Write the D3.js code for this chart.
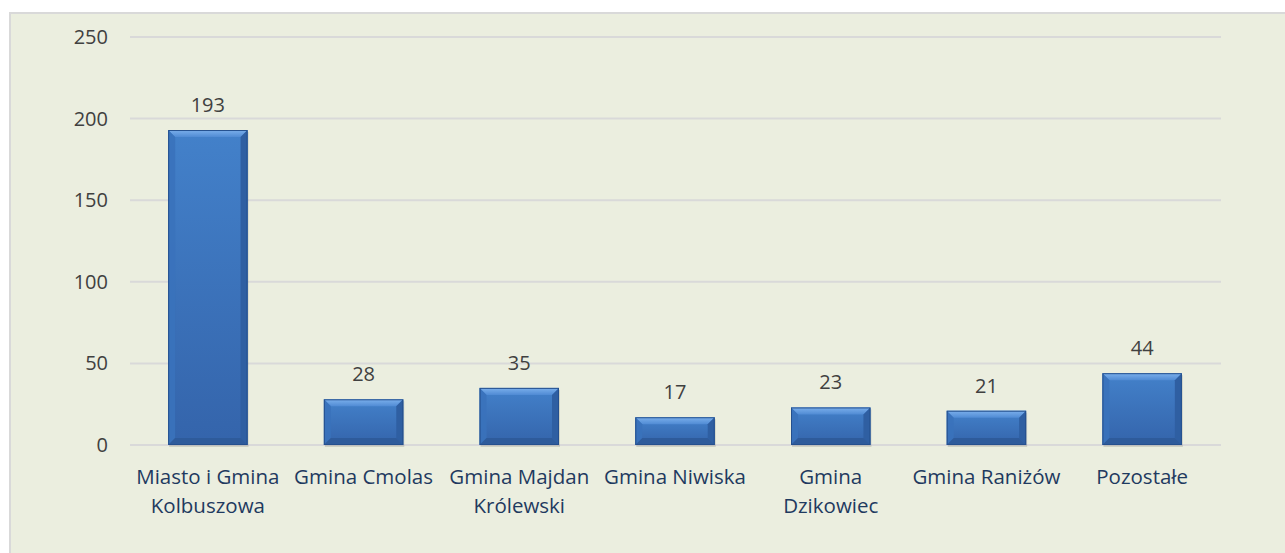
<!DOCTYPE html>
<html>
<head>
<meta charset="utf-8">
<script src="https://cdn.jsdelivr.net/npm/d3@7"></script>
<style>
body { margin: 0; background: #ffffff; }
#vis { width: 1285px; height: 553px; }
text { font-family: "Open Sans", "Liberation Sans", sans-serif; }
</style>
</head>
<body>
<div id="vis"></div>
<script>
var categories = ['Miasto i Gmina Kolbuszowa', 'Gmina Cmolas', 'Gmina Majdan Królewski',
    'Gmina Niwiska', 'Gmina Dzikowiec', 'Gmina Raniżów', 'Pozostałe'];
var labelLines = [['Miasto i Gmina', 'Kolbuszowa'], ['Gmina Cmolas'], ['Gmina Majdan', 'Królewski'],
    ['Gmina Niwiska'], ['Gmina', 'Dzikowiec'], ['Gmina Raniżów'], ['Pozostałe']];
var values = [193, 28, 35, 17, 23, 21, 44];
var yTicks = [0, 50, 100, 150, 200, 250];

var width = 1285, height = 553;

var svg = d3.select('#vis')
    .append('svg')
    .attr('width', width)
    .attr('height', height);

// chart frame
svg.append('rect')
    .attr('x', 10)
    .attr('y', 13)
    .attr('width', 1285)
    .attr('height', 560)
    .attr('fill', '#ebeedf')
    .attr('stroke', '#d9d9d9')
    .attr('stroke-width', 2);

var x_scale = d3.scaleBand()
    .domain(categories)
    .range([130, 1220])
    .paddingInner(0.49)
    .paddingOuter(0.245);

var y_scale = d3.scaleLinear()
    .domain([0, 250])
    .range([445, 37]);

var defs = svg.append('defs');
function grad(id, stops, vertical) {
    var g = defs.append('linearGradient').attr('id', id)
        .attr('x1', 0).attr('y1', 0)
        .attr('x2', vertical ? 0 : 1).attr('y2', vertical ? 1 : 0);
    stops.forEach(function(s) {
        g.append('stop').attr('offset', s[0]).attr('stop-color', s[1]);
    });
}
grad('face', [[0, '#4381ca'], [1, '#3464ab']], true);
grad('topBevel', [[0, '#7cb0ec'], [1, '#508bd4']], true);

// gridlines
svg.append('g')
    .selectAll('line')
    .data(yTicks)
    .enter()
    .append('line')
    .attr('x1', 130)
    .attr('x2', 1221)
    .attr('y1', function(d) { return y_scale(d); })
    .attr('y2', function(d) { return y_scale(d); })
    .attr('stroke', '#d9d9d9')
    .attr('stroke-width', 2);

// y axis labels
var y_axis = d3.axisLeft(y_scale)
    .tickValues(yTicks)
    .tickSize(0)
    .tickPadding(22);

svg.append('g')
    .attr('class', 'y axis')
    .attr('transform', 'translate(130,0)')
    .call(y_axis)
    .call(function(g) { g.select('.domain').remove(); })
    .selectAll('text')
    .attr('font-size', 20)
    .attr('fill', '#404040')
    .style('font-family', '"Open Sans", sans-serif');

// bars with bevel
var bw = x_scale.bandwidth();
var bev = 7;
var bars = svg.selectAll('.bar')
    .data(values)
    .enter()
    .append('g')
    .attr('class', 'bar')
    .attr('transform', function(d, i) {
        return 'translate(' + x_scale(categories[i]) + ',' + y_scale(d) + ')';
    });

bars.append('rect')
    .attr('x', 1)
    .attr('y', 2)
    .attr('width', bw)
    .attr('height', function(d) { return y_scale(0) - y_scale(d); })
    .attr('fill', '#000')
    .attr('opacity', 0.12);

bars.append('rect')
    .attr('width', bw)
    .attr('height', function(d) { return y_scale(0) - y_scale(d); })
    .attr('fill', 'url(#face)');

bars.append('path')
    .attr('d', function(d) {
        return 'M0,0 L' + bw + ',0 L' + (bw - bev) + ',' + bev + ' L' + bev + ',' + bev + 'Z';
    })
    .attr('fill', 'url(#topBevel)');

bars.append('path')
    .attr('d', function(d) {
        var h = y_scale(0) - y_scale(d);
        return 'M0,0 L' + bev + ',' + bev + ' L' + bev + ',' + (h - bev) + ' L0,' + h + 'Z';
    })
    .attr('fill', '#3a72bb')
    .attr('opacity', 0.9);

bars.append('path')
    .attr('d', function(d) {
        var h = y_scale(0) - y_scale(d);
        return 'M' + bw + ',0 L' + (bw - bev) + ',' + bev + ' L' + (bw - bev) + ',' + (h - bev) + ' L' + bw + ',' + h + 'Z';
    })
    .attr('fill', '#2f5fa2');

bars.append('path')
    .attr('d', function(d) {
        var h = y_scale(0) - y_scale(d);
        return 'M0,' + h + ' L' + bev + ',' + (h - bev) + ' L' + (bw - bev) + ',' + (h - bev) + ' L' + bw + ',' + h + 'Z';
    })
    .attr('fill', '#2e5b9b');

bars.append('rect')
    .attr('x', 0.5)
    .attr('y', 0.5)
    .attr('width', bw - 1)
    .attr('height', function(d) { return y_scale(0) - y_scale(d) - 1; })
    .attr('fill', 'none')
    .attr('stroke', '#25508e')
    .attr('stroke-width', 1);

// value labels
svg.append('g')
    .selectAll('text')
    .data(values)
    .enter()
    .append('text')
    .attr('x', function(d, i) { return x_scale(categories[i]) + bw / 2; })
    .attr('y', function(d) { return y_scale(d) - 18; })
    .attr('text-anchor', 'middle')
    .attr('font-size', 20)
    .attr('fill', '#404040')
    .text(function(d) { return d; });

// category labels
var catText = svg.append('g')
    .selectAll('text')
    .data(categories)
    .enter()
    .append('text')
    .attr('x', function(d) { return x_scale(d) + bw / 2; })
    .attr('y', 484)
    .attr('text-anchor', 'middle')
    .attr('font-size', 20.5)
    .attr('fill', '#1f3a60');

catText.each(function(d, i) {
    var t = d3.select(this);
    labelLines[i].forEach(function(line, j) {
        t.append('tspan')
            .attr('x', x_scale(d) + bw / 2)
            .attr('dy', j === 0 ? 0 : 29)
            .text(line);
    });
});
</script>
</body>
</html>
